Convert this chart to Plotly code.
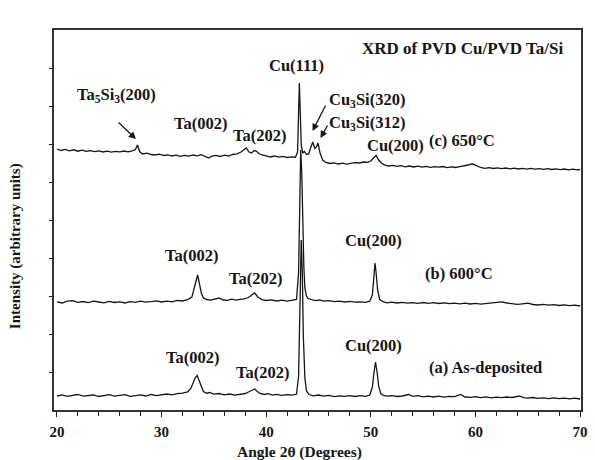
import plotly.graph_objects as go

# ---- XRD patterns: 2-theta (deg) and intensity (arbitrary units) ----
two_theta_a = [20.0, 20.5, 21.0, 21.5, 22.0, 22.5, 23.0, 23.5, 24.0, 24.5, 25.0, 25.5, 26.0, 26.5,
               27.0, 27.5, 28.0, 28.5, 29.0, 29.5, 30.0, 30.5, 31.0, 31.5, 32.0, 32.5, 32.8, 33.0,
               33.2, 33.4, 33.6, 33.8, 34.0, 34.3, 34.6, 35.0, 35.5, 36.0, 36.5, 37.0, 37.5, 38.0,
               38.4, 38.7, 38.9, 39.1, 39.4, 39.8, 40.2, 40.6, 41.0, 41.5, 42.0, 42.5, 42.9, 43.1,
               43.25, 43.35, 43.45, 43.55, 43.7, 43.85, 44.1, 44.5, 45.0, 45.5, 46.0, 46.5, 47.0,
               47.5, 48.0, 48.5, 49.0, 49.5, 49.9, 50.15, 50.3, 50.45, 50.6, 50.75, 50.95, 51.2,
               51.6, 52.0, 52.5, 53.0, 53.6, 54.0, 54.5, 55.0, 55.5, 56.0, 56.5, 57.0, 57.5, 58.0,
               58.6, 59.0, 59.5, 60.0, 60.5, 61.0, 61.5, 62.0, 62.5, 63.0, 63.5, 64.2, 64.6, 65.0,
               65.5, 66.0, 66.5, 67.0, 67.5, 68.0, 68.5, 69.0, 69.5, 70.0]
intensity_a = [10.0, 11.2, 9.6, 10.8, 11.5, 9.8, 10.6, 11.0, 9.5, 10.7, 11.3, 9.9, 10.5, 11.4,
               9.7, 10.4, 11.2, 10.0, 11.5, 10.3, 11.0, 12.0, 11.1, 12.4, 12.8, 14.2, 17.5, 22.0,
               28.0, 30.5, 25.0, 18.5, 14.5, 12.8, 13.5, 11.8, 12.5, 11.2, 12.0, 10.8, 11.9, 12.5,
               14.5, 16.5, 17.0, 15.0, 12.6, 11.5, 12.3, 10.9, 11.6, 10.6, 11.3, 10.8, 12.0, 30.0,
               130.0, 166.0, 135.0, 70.0, 28.0, 15.0, 11.5, 10.2, 11.0, 9.8, 10.6, 9.4, 10.2,
               9.6, 10.4, 9.5, 10.3, 9.7, 11.0, 19.0, 33.0, 44.0, 34.0, 20.0, 12.5, 10.5,
               9.8, 10.4, 9.5, 10.0, 11.5, 9.6, 10.3, 9.2, 9.9, 9.0, 9.8, 8.9, 9.6, 9.4,
               11.6, 9.0, 8.6, 9.3, 8.4, 9.1, 8.2, 8.9, 8.3, 9.0, 8.5, 10.0, 8.4, 7.8,
               8.5, 7.6, 8.2, 7.4, 8.1, 7.3, 7.9, 7.2, 7.8, 7.0]

two_theta_b = [20.0, 20.5, 21.0, 21.5, 22.0, 22.5, 23.0, 23.5, 24.0, 24.5, 25.0, 25.5, 26.0, 26.5,
               27.0, 27.5, 28.0, 28.5, 29.0, 29.5, 30.0, 30.5, 31.0, 31.5, 32.0, 32.5, 32.9, 33.1,
               33.3, 33.45, 33.6, 33.8, 34.0, 34.3, 34.7, 35.1, 35.5, 35.9, 36.3, 36.7, 37.1, 37.5,
               37.9, 38.3, 38.6, 38.9, 39.2, 39.6, 40.0, 40.5, 41.0, 41.5, 42.0, 42.5, 42.9, 43.1,
               43.2, 43.3, 43.4, 43.5, 43.6, 43.7, 43.85, 44.0, 44.3, 44.7, 45.1, 45.5, 46.0, 46.5,
               47.0, 47.5, 48.0, 48.5, 49.0, 49.5, 49.9, 50.15, 50.3, 50.4, 50.5, 50.65, 50.85,
               51.2, 51.6, 52.0, 52.5, 53.0, 53.5, 54.0, 54.5, 55.0, 55.5, 56.0, 56.5, 57.0, 57.5,
               58.0, 58.5, 59.0, 59.5, 60.0, 60.5, 61.0, 61.5, 62.0, 62.5, 63.0, 63.5, 64.0, 64.5,
               65.0, 65.5, 66.0, 66.5, 67.0, 67.5, 68.0, 68.5, 69.0, 69.5, 70.0]
intensity_b = [10.2, 9.0, 10.8, 11.4, 9.6, 10.5, 9.3, 10.9, 10.0, 9.2, 10.6, 9.5, 10.1, 9.0,
               10.4, 9.6, 10.8, 9.8, 10.3, 11.2, 10.0, 10.9, 10.2, 11.6, 11.0, 12.4, 15.0, 22.0,
               31.0, 37.0, 30.0, 19.0, 14.0, 12.5, 11.8, 12.6, 14.0, 12.0, 11.6, 12.8, 11.9, 12.7,
               13.2, 14.5, 16.5, 19.0, 15.0, 12.4, 11.5, 12.2, 11.0, 11.8, 10.9, 11.5, 12.5, 40.0,
               125.0, 162.0, 140.0, 85.0, 45.0, 24.0, 16.0, 13.5, 12.6, 11.4, 12.0, 10.8, 11.3, 10.4,
               10.9, 10.0, 10.6, 9.8, 10.2, 9.6, 10.8, 17.0, 36.0, 49.0, 40.0, 22.0, 12.5,
               10.0, 9.2, 9.9, 9.0, 9.6, 8.8, 9.4, 8.7, 9.5, 8.6, 9.3, 8.5, 9.2, 8.4,
               8.9, 8.2, 8.8, 8.0, 8.6, 7.8, 8.5, 8.9, 9.4, 10.2, 9.0, 8.3, 7.6, 8.2,
               8.8, 7.5, 7.0, 7.6, 6.8, 7.3, 6.5, 7.1, 6.3, 6.8, 6.0]

two_theta_c = [20.0, 20.4, 20.8, 21.2, 21.6, 22.0, 22.4, 22.8, 23.2, 23.6, 24.0, 24.4, 24.8, 25.2,
               25.6, 26.0, 26.4, 26.8, 27.2, 27.5, 27.7, 27.9, 28.2, 28.6, 29.0, 29.4, 29.8, 30.2,
               30.6, 31.0, 31.4, 31.8, 32.2, 32.6, 33.0, 33.4, 33.8, 34.2, 34.5, 34.8, 35.2, 35.6,
               36.0, 36.4, 36.8, 37.2, 37.6, 37.9, 38.1, 38.35, 38.6, 38.85, 39.05, 39.3, 39.6, 40.0,
               40.4, 40.8, 41.2, 41.6, 42.0, 42.4, 42.8, 43.0, 43.1, 43.17, 43.25, 43.35, 43.5, 43.65,
               43.85, 44.05, 44.25, 44.45, 44.65, 44.8, 44.95, 45.15, 45.4, 45.7, 46.1, 46.5, 46.9,
               47.3, 47.7, 48.1, 48.5, 48.9, 49.3, 49.7, 50.0, 50.25, 50.5, 50.75, 51.0, 51.3, 51.7,
               52.1, 52.5, 52.9, 53.3, 53.7, 54.1, 54.5, 54.9, 55.3, 55.7, 56.1, 56.5, 56.9, 57.3,
               57.7, 58.1, 58.5, 58.9, 59.3, 59.7, 60.1, 60.5, 60.9, 61.3, 61.7, 62.1, 62.5, 62.9,
               63.3, 63.7, 64.1, 64.5, 64.9, 65.3, 65.7, 66.1, 66.5, 66.9, 67.3, 67.7, 68.1, 68.5,
               68.9, 69.3, 69.7, 70.0]
intensity_c = [31.0, 29.5, 30.6, 29.2, 30.2, 28.8, 29.9, 28.6, 29.4, 28.3, 29.1, 28.0, 28.9, 27.8,
               28.7, 28.2, 29.0, 28.1, 29.2, 30.5, 35.0, 28.5, 26.0, 26.8, 25.5, 25.0, 25.8, 24.5,
               25.2, 24.0, 24.8, 23.6, 24.6, 23.8, 25.0, 24.2, 25.4, 23.5, 22.0, 23.8, 24.6, 23.5,
               24.8, 24.0, 25.5, 26.2, 28.0, 30.5, 32.0, 28.0, 27.0, 29.5, 29.0, 26.5, 25.0, 24.2,
               23.0, 24.0, 22.8, 23.6, 22.5, 23.2, 22.8, 28.0, 80.0, 97.0, 70.0, 35.0, 27.0, 28.5,
               25.5, 26.0, 32.0, 38.0, 31.5, 33.0, 37.0, 27.0, 20.0, 17.5, 16.5, 17.2, 16.0,
               16.8, 15.8, 16.6, 17.4, 17.0, 18.0, 17.6, 19.0, 22.0, 24.5, 20.0, 17.0, 15.2, 14.0,
               14.6, 13.6, 14.3, 13.2, 14.0, 13.0, 13.8, 12.9, 13.6, 12.6, 13.4, 12.8, 13.5, 12.4,
               13.2, 12.5, 13.3, 14.0, 15.0, 16.2, 14.0, 12.5, 11.6, 12.4, 11.5, 12.2, 11.4, 12.0,
               11.2, 11.9, 11.0, 11.7, 10.9, 11.6, 10.8, 11.4, 10.6, 11.3, 10.5, 11.1, 10.4, 11.0,
               10.2, 10.9, 10.1, 10.5]

# vertical stacking of the three patterns
offsets = {"a": 4, "b": 98, "c": 230}

SERIF = "Liberation Serif"
INK = "#161616"

fig = go.Figure()
for key, xs, ys in [("a", two_theta_a, intensity_a),
                    ("b", two_theta_b, intensity_b),
                    ("c", two_theta_c, intensity_c)]:
    fig.add_trace(go.Scatter(
        x=xs, y=[v + offsets[key] for v in ys], mode="lines",
        line=dict(color=INK, width=1.3), showlegend=False, hoverinfo="skip"))


def label(text, x, y, size=16.5):
    fig.add_annotation(x=x, y=y, xref="x", yref="y", text=text, showarrow=False,
                       xanchor="center", yanchor="middle",
                       font=dict(family=SERIF, size=size, color=INK, weight="bold"))


def arrow(x_head, y_head, x_tail, y_tail):
    fig.add_annotation(x=x_head, y=y_head, ax=x_tail, ay=y_tail, xref="x", yref="y",
                       axref="x", ayref="y", text="", showarrow=True, arrowhead=2,
                       arrowsize=1.1, arrowwidth=1.3, arrowcolor=INK, standoff=0)


# peak labels, pattern (c) 650 C
label("Cu(111)", 42.92, 345)
label("Ta<sub>5</sub>Si<sub>3</sub>(200)", 25.66, 315)
label("Ta(002)", 33.68, 287)
label("Ta(202)", 39.34, 275)
label("Cu<sub>3</sub>Si(320)", 49.62, 310)
label("Cu<sub>3</sub>Si(312)", 49.62, 287)
label("Cu(200)", 52.36, 265)
label("(c) 650°C", 58.68, 270)
arrow(27.55, 271, 25.75, 289)
arrow(44.43, 279, 45.75, 306)
arrow(45.19, 272, 45.94, 286)

# pattern (b) 600 C
label("Ta(002)", 32.83, 155)
label("Ta(202)", 38.96, 132)
label("Cu(200)", 50.28, 170)
label("(b) 600°C", 58.40, 137)

# pattern (a) as-deposited
label("Ta(002)", 32.92, 53)
label("Ta(202)", 39.62, 38)
label("Cu(200)", 50.28, 65)
label("(a) As-deposited", 60.94, 43)

# panel caption
fig.add_annotation(x=68.6, y=362, xref="x", yref="y", text="XRD of PVD Cu/PVD Ta/Si",
                   showarrow=False, xanchor="right", yanchor="middle",
                   font=dict(family=SERIF, size=17, color=INK, weight="bold"))

# axis titles
fig.add_annotation(x=0.466, y=-0.11, xref="paper", yref="paper", text="Angle 2θ (Degrees)",
                   showarrow=False, xanchor="center", yanchor="middle",
                   font=dict(family=SERIF, size=15.5, color=INK, weight="bold"))
fig.add_annotation(x=-0.073, y=0.43, xref="paper", yref="paper",
                   text="Intensity (arbitrary units)", textangle=-90,
                   showarrow=False, xanchor="center", yanchor="middle",
                   font=dict(family=SERIF, size=15, color=INK, weight="bold"))

fig.update_xaxes(range=[19.72, 70.09], tickvals=[20, 30, 40, 50, 60, 70],
                 ticks="outside", ticklen=5, tickwidth=1.2, tickcolor=INK,
                 minor=dict(dtick=2, ticks="outside", ticklen=4, tickwidth=1, tickcolor=INK),
                 showline=True, mirror=True, linecolor="#333333", linewidth=1.5,
                 showgrid=False, zeroline=False, ticklabelstandoff=2,
                 tickfont=dict(family=SERIF, size=15, color=INK, weight="bold"))
fig.update_yaxes(range=[0, 380], tickvals=[38, 76, 114, 152, 190, 228, 266, 304, 342],
                 showticklabels=False, ticks="outside", ticklen=3, tickwidth=1, tickcolor=INK,
                 showline=True, mirror=True, linecolor="#333333", linewidth=1.5,
                 showgrid=False, zeroline=False)

fig.update_layout(width=595, height=460, autosize=False,
                  margin=dict(l=54, r=7, t=30, b=50),
                  paper_bgcolor="white", plot_bgcolor="white")

fig.write_html("out.html")
